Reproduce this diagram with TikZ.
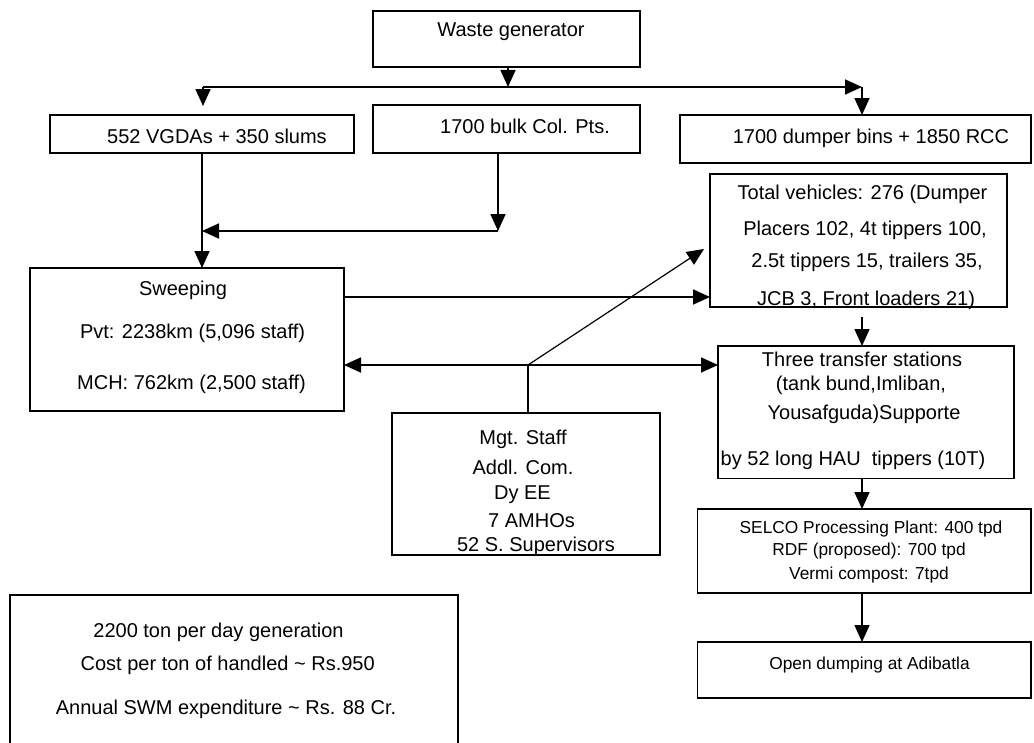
\documentclass[tikz,border=0pt]{standalone}
\usepackage{fontspec}
\setmainfont{Liberation Sans}
\usetikzlibrary{arrows.meta,fit}
\begin{document}
\begin{tikzpicture}[x=0.75pt,y=-0.75pt,
  box/.style={draw, line width=1.4pt, inner sep=0pt, outer sep=0pt},
  t/.style={font=\fontsize{15}{18}\selectfont, anchor=base, inner sep=0pt},
  tsm/.style={font=\fontsize{13}{16}\selectfont, anchor=base, inner sep=0pt},
  tip/.tip={Triangle[length=12.75pt,width=11.25pt]},
  arr/.style={line width=1.3pt, -tip},
  dbl/.style={line width=1.3pt, tip-tip},
  ln/.style={line width=0.9pt},
  thinarr/.style={line width=0.9pt, -tip}]
\useasboundingbox (0,0) rectangle (1034,742);
\clip (0,0) rectangle (1034,742);

% boxes
\node[box, fit={(373,10.7)(640,66.7)}] (wg) {};
\node[box, fit={(50,115)(354,153)}] (vg) {};
\node[box, fit={(373,105)(640,153)}] (bulk) {};
\node[box, fit={(680,115)(1031,163)}] (dump) {};
\node[box, fit={(710,174)(1007,307)}] (tv) {};
\node[box, fit={(30,268)(344,411)}] (sw) {};
\node[box, fit={(718,346)(1014,478.5)}] (ts) {};
\node[box, fit={(392,413)(660,555)}] (mg) {};
\node[box, fit={(697.5,509)(1031,593)}] (sel) {};
\node[box, fit={(697.5,642)(1031,698)}] (od) {};
\node[box, fit={(10,595)(458,770)}] (bl) {};

% texts
\node[t] (wgt) at (511,37) {Waste generator};
\node[t] (vgt) at (217,143) {552 VGDAs + 350 slums};
\node[t] (bulkt) at (525,133.5) {1700 bulk Col. Pts.};
\node[t] (dumpt) at (871,143.5) {1700 dumper bins + 1850 RCC};
\node[t] (tv1) at (862.5,199) {Total vehicles: 276 (Dumper};
\node[t] (tv2) at (865,235) {Placers 102, 4t tippers 100,};
\node[t] (tv3) at (867,267) {2.5t tippers 15, trailers 35,};
\node[t] (tv4) at (866,305) {JCB 3, Front loaders 21)};
\node[t] (sw1) at (183,295) {Sweeping};
\node[t] (sw2) at (192.5,338.5) {Pvt: 2238km (5,096 staff)};
\node[t] (sw3) at (191.5,389.5) {MCH: 762km (2,500 staff)};
\node[t] (ts1) at (862,366.5) {Three transfer stations};
\node[t] (ts2) at (861,390) {(tank bund,Imliban,};
\node[t] (ts3) at (864,419) {Yousafguda)Supporte};
\node[t] (ts4) at (853,465.5) {by 52 long HAU\ \ tippers (10T)};
\node[t] (mg1) at (523,444) {Mgt. Staff};
\node[t] (mg2) at (523,474) {Addl. Com.};
\node[t] (mg3) at (522.5,499) {Dy EE};
\node[t] (mg4) at (531.5,527) {7 AMHOs};
\node[t] (mg5) at (536,551) {52 S. Supervisors};
\node[tsm] (sel1) at (871,533.5) {SELCO Processing Plant: 400 tpd};
\node[tsm] (sel2) at (869,555.5) {RDF (proposed): 700 tpd};
\node[tsm] (sel3) at (869,579.5) {Vermi compost: 7tpd};
\node[tsm] (odt) at (869.5,669) {Open dumping at Adibatla};
\node[t] (bl1) at (218.5,637.5) {2200 ton per day generation};
\node[t] (bl2) at (227.7,670.5) {Cost per ton of handled \textasciitilde{} Rs.950};
\node[t] (bl3) at (226,714) {Annual SWM expenditure \textasciitilde{} Rs. 88 Cr.};

% connectors
\coordinate (c1) at (508,87);
\coordinate (cL) at (203,87);
\coordinate (cR) at (862,87);
\coordinate (cLd) at (203,106);
\draw[arr] (wg.south -| c1) -- (c1);
\draw[arr] (cL) -- (cR);
\draw[arr] (cL) -- (cLd);
\draw[arr] (cR) -- (cR |- dump.north);

\draw[arr] (vg.south) -- (vg.south |- sw.north);
\coordinate (j1) at (498,231);
\draw[arr] (bulk.south -| j1) -- (j1);
\draw[arr] (j1) -- (vg.south |- j1);

\coordinate (y297) at (0,297);
\draw[arr] (sw.east |- y297) -- (tv.west |- y297);
\coordinate (y365) at (0,365);
\draw[dbl] (sw.east |- y365) -- (ts.west |- y365);

\coordinate (m1) at (528,365);
\coordinate (m2) at (704,249);
\draw[ln] (mg.north -| m1) -- (m1);
\draw[thinarr] (m1) -- (m2);

\coordinate (k1) at (862,317);
\draw[arr] (k1) -- (k1 |- ts.north);
\draw[arr] (ts.south -| k1) -- (k1 |- sel.north);
\draw[arr] (sel.south -| k1) -- (k1 |- od.north);
\end{tikzpicture}
\end{document}
